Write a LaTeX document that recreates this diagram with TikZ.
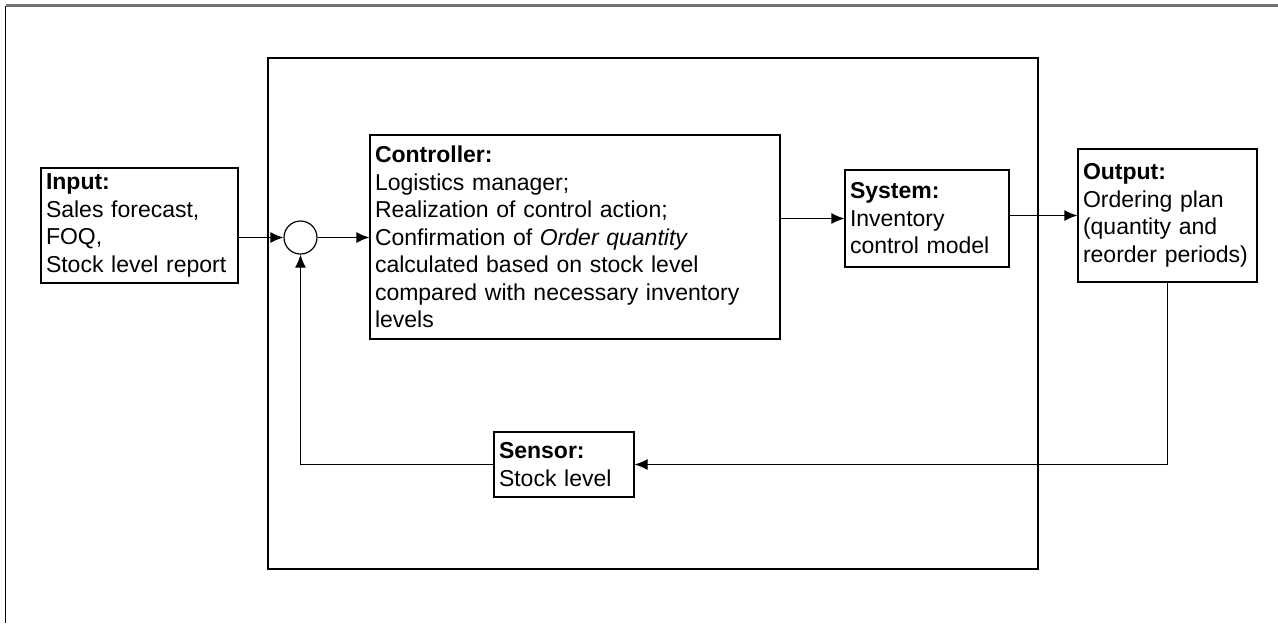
\documentclass[tikz,border=0pt]{standalone}
\usepackage{fontspec}
\setmainfont{Liberation Sans}
\usetikzlibrary{arrows.meta}
\begin{document}
\begin{tikzpicture}[x=0.5pt, y=-0.5pt, >={Latex[length=6.5pt,width=5.5pt]}, line width=0.6pt,
  every node/.style={font=\fontsize{11.5}{13.75}\selectfont},
  block/.style={draw, align=left, inner xsep=2.5pt, inner ysep=0pt}]
\useasboundingbox (0,0) rectangle (1278,623);
% frame and plant boundary
\draw (5.5,623) -- (5.5,5.5);
\draw[black!55, line width=1.2pt] (5.5,5.5) -- (1278,5.5);
\node[draw, minimum width=385pt, minimum height=255.5pt, inner sep=0pt] (plant) at (653,313.5) {};
% blocks
\node[block, text width=93.5pt, minimum height=57.5pt] (inputbox) at (139.5,225.5) {\textbf{Input:}\\Sales forecast,\\FOQ,\\Stock level report};
\node[draw, circle, minimum size=16.5pt, inner sep=0pt] (sum) at (300.5,237.5) {};
\node[block, text width=200pt, minimum height=102pt] (controller) at (575,237) {\textbf{Controller:}\\Logistics manager;\\Realization of control action;\\Confirmation of \textit{Order quantity}\\calculated based on stock level\\compared with necessary inventory\\levels};
\node[block, text width=77pt, minimum height=48.5pt] (system) at (927,218.5) {\textbf{System:}\\Inventory\\control model};
\node[block, text width=84.5pt, minimum height=66.5pt] (output) at (1167.5,215.5) {\textbf{Output:}\\Ordering plan\\(quantity and\\reorder periods)};
\node[block, text width=65pt, minimum height=32.5pt] (sensor) at (564,464.5) {\textbf{Sensor:}\\Stock level};
% signal flow
\draw[->] (inputbox.east |- sum) -- (sum.west);
\draw[->] (sum.east) -- (sum.east -| controller.west);
\draw[->] (controller.east |- system) -- (system.west);
\draw[->] (system.east |- output) -- (output.west);
\draw[->] (output.south) |- (sensor.east);
\draw[->] (sensor.west) -| (sum.south);
\end{tikzpicture}
\end{document}
